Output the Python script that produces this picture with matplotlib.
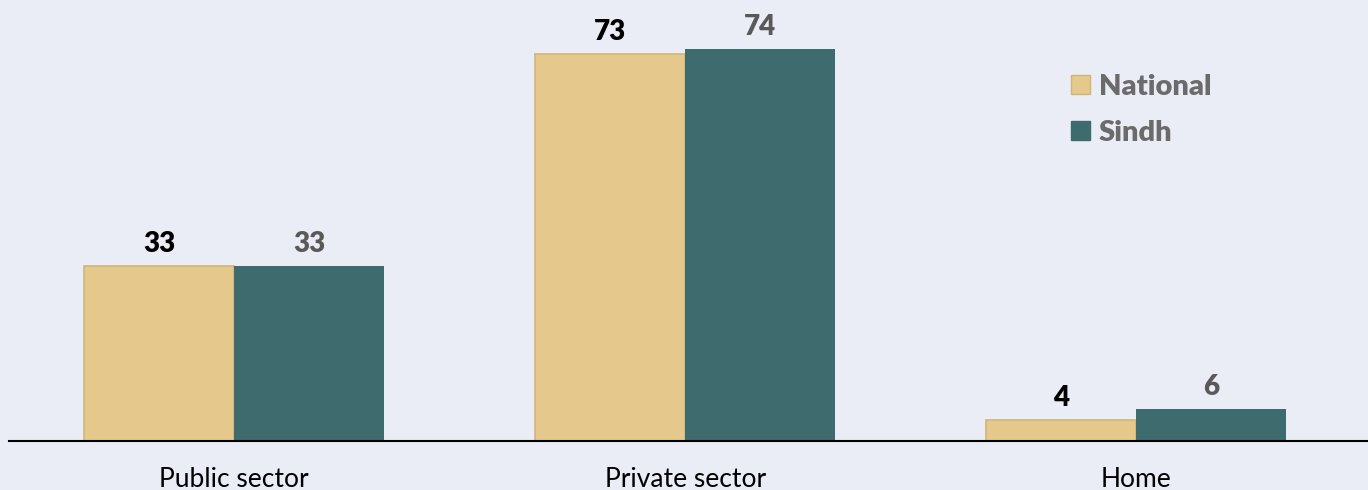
import matplotlib
matplotlib.use("Agg")
import matplotlib.pyplot as plt
import numpy as np
from matplotlib.patches import Patch

categories = ["Public sector", "Private sector", "Home"]
national = [33, 73, 4]
sindh = [33, 74, 6]
series_names = ["National", "Sindh"]

bg = "#EAECF6"
c_nat = "#E5C98C"
c_sin = "#3D6B6E"

plt.rcParams['font.family'] = ['Lato', 'DejaVu Sans']

fig = plt.figure(figsize=(13.68, 4.90), dpi=100, facecolor=bg)
ax = fig.add_axes([9/1368, 49/490, 1359/1368, 441/490], facecolor=bg)

x = np.arange(len(categories))
w = 150/451
b1 = ax.bar(x - w/2, national, width=w, color=c_nat, edgecolor="#D2B478", linewidth=1.2, zorder=2)
b2 = ax.bar(x + w/2, sindh, width=w, color=c_sin, edgecolor=c_sin, linewidth=0, zorder=2)

ax.set_xlim(-0.499, 2.514)
ax.set_ylim(0, 83.2)

for rect, v in zip(b1, national):
    ax.annotate(f"{v}", (rect.get_x() + rect.get_width()/2, v), xytext=(0, 16),
                textcoords="offset points", ha="center", va="center",
                fontsize=20, fontweight="heavy", color="#000000")
for rect, v in zip(b2, sindh):
    ax.annotate(f"{v}", (rect.get_x() + rect.get_width()/2, v), xytext=(0, 16),
                textcoords="offset points", ha="center", va="center",
                fontsize=20, fontweight="heavy", color="#595959")

for s in ["top", "right", "left"]:
    ax.spines[s].set_visible(False)
ax.spines["bottom"].set_color("#000000")
ax.spines["bottom"].set_linewidth(1.5)
ax.set_yticks([])
ax.set_xticks(x)
ax.set_xticklabels(categories, fontsize=19, color="#000000")
ax.tick_params(axis="x", length=0, pad=19)

handles = [Patch(facecolor=c_nat, edgecolor="#D2B478"), Patch(facecolor=c_sin, edgecolor=c_sin)]
leg = ax.legend(handles, series_names, loc="upper left", bbox_to_anchor=(1062/1359, (441-74)/441),
                frameon=False, prop={"size": 21, "weight": "heavy"}, handlelength=0.65,
                handleheight=0.65, handletextpad=0.3, labelspacing=0.68,
                borderpad=0, borderaxespad=0)
for t in leg.get_texts():
    t.set_color("#6B6B6B")

fig.savefig("out.png", dpi=100, facecolor=bg)
